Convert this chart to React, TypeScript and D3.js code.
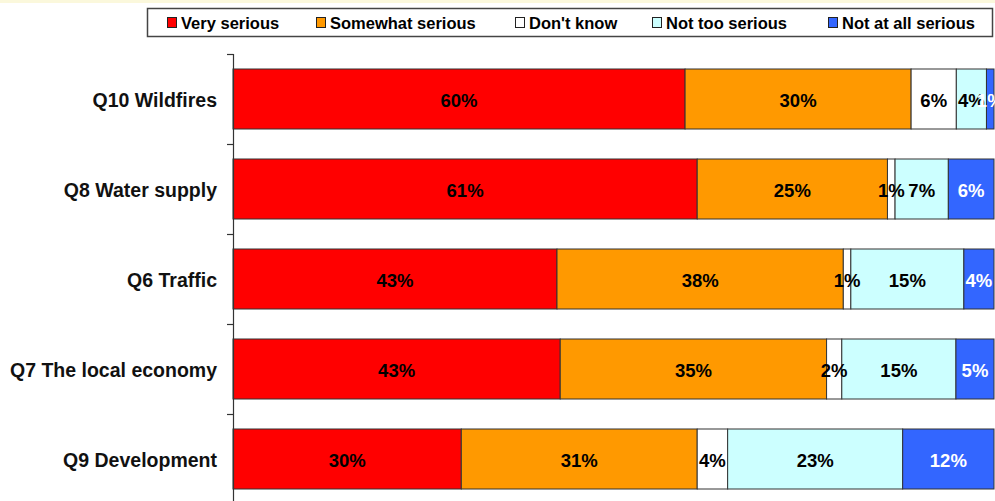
import React from "react";
import * as d3 from "d3";

// Survey topics, top to bottom
const categories = [
  "Q10 Wildfires",
  "Q8 Water supply",
  "Q6 Traffic",
  "Q7 The local economy",
  "Q9 Development",
];

// Response series (stack order left to right)
const seriesNames = [
  "Very serious",
  "Somewhat serious",
  "Don't know",
  "Not too serious",
  "Not at all serious",
];

// Percent values per series, one entry per category
const verySerious = [60, 61, 43, 43, 30];
const somewhatSerious = [30, 25, 38, 35, 31];
const dontKnow = [6, 1, 1, 2, 4];
const notTooSerious = [4, 7, 15, 15, 23];
const notAtAllSerious = [1, 6, 4, 5, 12];

const seriesValues = [verySerious, somewhatSerious, dontKnow, notTooSerious, notAtAllSerious];
const seriesColors = ["#ff0000", "#ff9900", "#ffffff", "#ccffff", "#3366ff"];
const labelColors = ["#000", "#000", "#000", "#000", "#fff"];

const W = 995;
const H = 501;
const FONT = "'Liberation Sans', Arial, Helvetica, sans-serif";

// Legend item x positions (swatch left edges)
const legendX = [167, 316, 515, 652, 828];

export default function App() {
  const x = d3.scaleLinear().domain([0, 1]).range([233, 994]);
  const y = d3
    .scaleBand<string>()
    .domain(categories)
    .range([54, 504])
    .paddingInner(1 / 3)
    .paddingOuter(1 / 6);

  // Each row is normalised to its own total (100% stacked bars)
  const rows = categories.map((c, i) => {
    const vals = seriesValues.map((s) => s[i]);
    const total = d3.sum(vals);
    let acc = 0;
    const segs = vals.map((v, k) => {
      const x0 = acc / total;
      acc += v;
      const x1 = acc / total;
      return { k, v, x0, x1 };
    });
    return { c, segs };
  });

  const step = y.step();
  const tickYs = categories.map((c) => (y(c) as number) - step * (1 / 6));

  return (
    <svg
      width={W}
      height={H}
      style={{ position: "fixed", left: 0, top: 0, background: "#fff" }}
      fontFamily={FONT}
    >
      <rect x={0} y={0} width={W} height={3} fill="#fbf8dc" />

      {/* legend */}
      <rect x={147.5} y={8.5} width={845} height={28} fill="#fff" stroke="#444" strokeWidth={1.5} />
      {seriesNames.map((n, k) => (
        <g key={n}>
          <rect
            x={legendX[k] + 0.5}
            y={17.5}
            width={9}
            height={10}
            fill={seriesColors[k]}
            stroke="#222"
            strokeWidth={1}
          />
          <text x={legendX[k] + 14} y={28.5} fontSize={16.5} fontWeight="bold" fill="#000">
            {n}
          </text>
        </g>
      ))}

      {/* bars */}
      {rows.map((r) => (
        <g key={r.c}>
          {r.segs.map((s) => {
            const x0 = x(s.x0);
            const x1 = x(s.x1);
            const yy = y(r.c) as number;
            return (
              <rect
                key={s.k}
                x={x0}
                y={yy}
                width={Math.max(0, x1 - x0)}
                height={y.bandwidth()}
                fill={seriesColors[s.k]}
                stroke="#333"
                strokeWidth={1}
              />
            );
          })}
        </g>
      ))}
      {rows.map((r) => (
        <g key={r.c + "-labels"}>
          {r.segs.map((s) => {
            const cx = (x(s.x0) + x(s.x1)) / 2;
            const cy = (y(r.c) as number) + y.bandwidth() / 2;
            return (
              <text
                key={s.k}
                x={cx}
                y={cy + 8}
                textAnchor="middle"
                fontSize={18.5}
                fontWeight="bold"
                fill={labelColors[s.k]}
              >
                {s.v}%
              </text>
            );
          })}
        </g>
      ))}

      {/* category axis */}
      <line x1={233.5} x2={233.5} y1={54} y2={H} stroke="#333" strokeWidth={1.2} />
      {tickYs.map((ty, i) => (
        <line key={i} x1={227} x2={233.5} y1={ty + 0.5} y2={ty + 0.5} stroke="#333" strokeWidth={1.2} />
      ))}
      {categories.map((c) => (
        <text
          key={c}
          x={217}
          y={(y(c) as number) + y.bandwidth() / 2 + 8}
          textAnchor="end"
          fontSize={19.5}
          fontWeight="bold"
          fill="#111"
        >
          {c}
        </text>
      ))}
    </svg>
  );
}
